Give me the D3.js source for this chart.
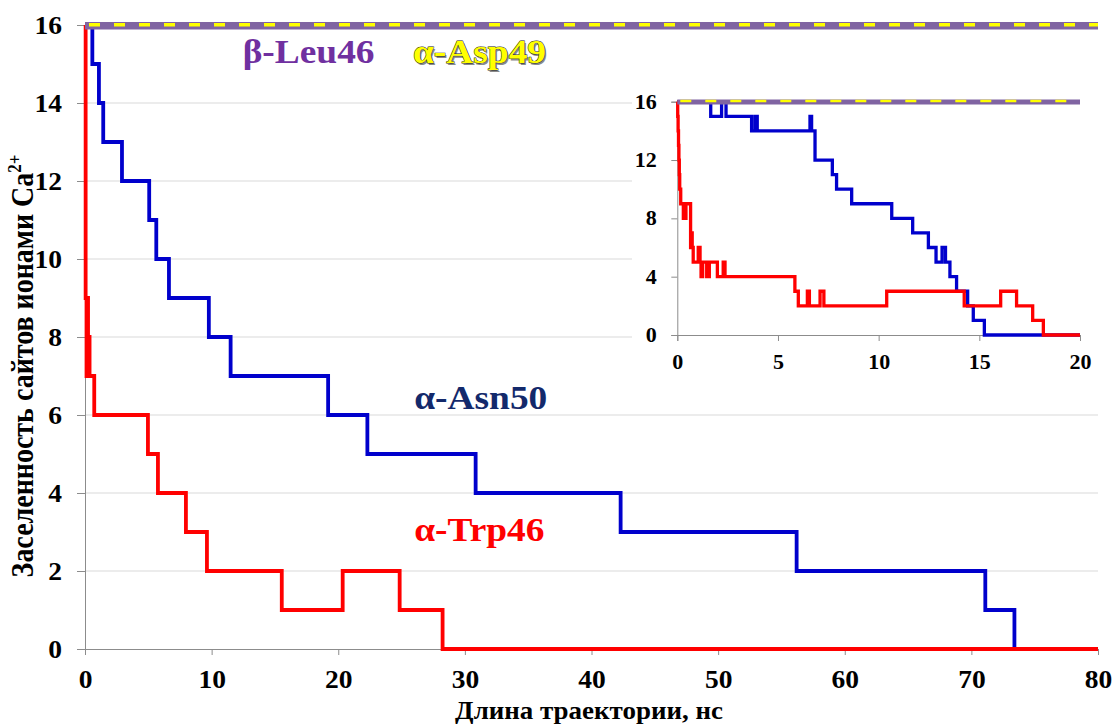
<!DOCTYPE html>
<html>
<head>
<meta charset="utf-8">
<script src="https://cdn.jsdelivr.net/npm/d3@7"></script>
<style>
  html, body { margin: 0; padding: 0; background: #fff; }
  svg { display: block; }
  text { font-family: "Liberation Serif", "Times New Roman", serif; font-weight: bold; }
</style>
</head>
<body>
<svg id="chart" width="1112" height="727"></svg>
<script>
// ---- main panel: 0–80 ns ----
const mainTicksX = [0, 10, 20, 30, 40, 50, 60, 70, 80];
const mainTicksY = [0, 2, 4, 6, 8, 10, 12, 14, 16];

const asn50Time  = [0, 0.58, 1.10, 1.44, 2.92, 5.07, 5.63, 6.63, 9.78, 11.5, 19.2, 22.3, 30.85, 42.3, 56.2, 71.1, 73.4, 80];
const asn50Count = [16, 15, 14, 13, 12, 11, 10, 9, 8, 7, 6, 5, 4, 3, 2, 1, 0, 0];

const trp46Time  = [0, 0.05, 0.12, 0.18, 0.24, 0.30, 0.36, 0.73, 4.97, 5.76, 7.97, 9.63, 15.54, 20.35, 24.85, 28.24, 80];
const trp46Count = [16, 9, 7, 9, 7, 8, 7, 6, 5, 4, 3, 2, 1, 2, 1, 0, 0];

// β-Leu46 and α-Asp49 stay fully occupied over the whole run
const fullTime  = [0, 80];
const fullCount = [16, 16];

// ---- inset: first 20 ns ----
const insetTicksX = [0, 5, 10, 15, 20];
const insetTicksY = [0, 4, 8, 12, 16];

const insetAsnTime  = [0, 1.66, 2.20, 2.42, 3.69, 3.86, 3.97, 6.59, 6.67, 6.84, 7.70, 7.91, 8.66, 10.65, 11.69, 12.47, 12.85, 13.15, 13.32, 13.54, 13.87, 14.42, 14.70, 15.25, 20];
const insetAsnCount = [16, 15, 16, 15, 14, 15, 14, 15, 14, 12, 11, 10, 9, 8, 7, 6, 5, 6, 5, 4, 3, 2, 1, 0, 0];

const insetTrpTime  = [0, 0.02, 0.04, 0.06, 0.08, 0.10, 0.12, 0.14, 0.17, 0.30, 0.43, 0.66, 0.70, 0.74, 0.79, 1.04, 1.13, 1.18, 1.26, 1.46, 1.59, 1.99, 2.28, 2.37, 5.84, 6.01, 6.46, 6.56, 7.09, 7.28, 10.40, 14.25, 16.06, 16.85, 17.65, 18.18, 20];
const insetTrpCount = [16, 15, 14, 13, 12, 11, 10, 10, 9, 8, 9, 6, 7, 6, 5, 6, 5, 4, 5, 4, 5, 4, 5, 4, 3, 2, 3, 2, 3, 2, 3, 2, 3, 2, 1, 0, 0];

const insetFullTime  = [0, 20];
const insetFullCount = [16, 16];

const labelTexts = {
  leu: "β-Leu46",
  asp: "α-Asp49",
  asn: "α-Asn50",
  trp: "α-Trp46",
  xTitle: "Длина траектории, нс",
  yTitle: "Заселенность сайтов ионами Ca"
};

const C = {
  red: "#ff0000",
  blue: "#0000cc",
  navy: "#13296b",
  purpleBand: "#8064a2",
  purpleText: "#7030a0",
  yellow: "#ffff00",
  grid: "#d9d9d9",
  axis: "#8c8c8c",
  text: "#000000"
};

// glyphs are drawn slightly wide, as in the Times-style typesetting of the figure
const WIDE = 1.1;

const zip = (t, v) => t.map((d, i) => [d, v[i]]);
const svg = d3.select("#chart");

function styleTicks(axisG, size) {
  axisG.select(".domain").attr("stroke", C.axis);
  axisG.selectAll(".tick line").attr("stroke", C.axis);
  axisG.selectAll(".tick text")
    .attr("font-size", size).attr("fill", C.text)
    .attr("transform", `scale(${WIDE},1)`)
    .style("font-family", '"Liberation Serif", serif').style("font-weight", "bold");
}

function wideText(parent, str, px, py, size, fill, anchor) {
  return parent.append("text").text(str)
    .attr("transform", `translate(${px},${py}) scale(${WIDE},1)`)
    .attr("text-anchor", anchor || "start")
    .attr("font-size", size).attr("fill", fill);
}

// ---------- main panel ----------
const M = { left: 85, top: 25, right: 1098, bottom: 649 };
const x = d3.scaleLinear().domain([0, 80]).range([M.left, M.right]);
const y = d3.scaleLinear().domain([0, 16]).range([M.bottom, M.top]);

// horizontal gridlines
svg.append("g").selectAll("line")
  .data(mainTicksY.filter(d => d > 0))
  .join("line")
  .attr("x1", x(0)).attr("x2", x(80))
  .attr("y1", d => y(d)).attr("y2", d => y(d))
  .attr("stroke", C.grid).attr("stroke-width", 1);

const yAxis = svg.append("g")
  .attr("transform", `translate(${x(0)},0)`)
  .call(d3.axisLeft(y).tickValues(mainTicksY).tickSize(8).tickPadding(13).tickFormat(d3.format("d")));
styleTicks(yAxis, 25);

const xAxis = svg.append("g")
  .attr("transform", `translate(0,${y(0)})`)
  .call(d3.axisBottom(x).tickValues(mainTicksX).tickSize(6).tickPadding(15).tickFormat(d3.format("d")));
styleTicks(xAxis, 25);

const stepMain = d3.line().x(d => x(d[0])).y(d => y(d[1])).curve(d3.curveStepAfter);

svg.append("path").datum(zip(asn50Time, asn50Count))
  .attr("d", stepMain).attr("fill", "none")
  .attr("stroke", C.blue).attr("stroke-width", 3.8);

svg.append("path").datum(zip(trp46Time, trp46Count))
  .attr("d", stepMain).attr("fill", "none")
  .attr("stroke", C.red).attr("stroke-width", 3.8);

// β-Leu46 (purple band) with α-Asp49 (yellow dashes) on top
svg.append("path").datum(zip(fullTime, fullCount))
  .attr("d", stepMain).attr("transform", "translate(0,0.7)")
  .attr("fill", "none").attr("stroke", C.purpleBand).attr("stroke-width", 7.5);
svg.append("path").datum(zip(fullTime, fullCount))
  .attr("d", stepMain).attr("transform", "translate(0,-0.3)")
  .attr("fill", "none").attr("stroke", C.yellow).attr("stroke-width", 3.5)
  .attr("stroke-dasharray", "11 14").attr("stroke-dashoffset", -4);

// series labels
wideText(svg, labelTexts.leu, x(12.45), 63, 34, C.purpleText);

wideText(svg, labelTexts.asp, x(25.9) + 1.5, 64.5, 34, "#8a8a8a");
wideText(svg, labelTexts.asp, x(25.9), 63, 34, C.yellow)
  .attr("stroke", "#222").attr("stroke-width", 0.9).attr("paint-order", "stroke");

wideText(svg, labelTexts.asn, x(26.0), 409, 34, C.navy);
wideText(svg, labelTexts.trp, x(26.0), 541, 34, C.red);

// axis titles
wideText(svg, labelTexts.xTitle, 589, 719, 24.5, C.text, "middle");

const yt = svg.append("text")
  .attr("transform", `translate(33,366) rotate(-90) scale(1,${WIDE})`)
  .attr("text-anchor", "middle").attr("font-size", 28).attr("fill", C.text);
yt.append("tspan").text(labelTexts.yTitle);
yt.append("tspan").text("2+").attr("font-size", 17).attr("dy", -11);

// ---------- inset ----------
const I = { left: 677.3, top: 101.7, right: 1080, bottom: 335 };
svg.append("rect")
  .attr("x", 632).attr("y", 86).attr("width", 470).attr("height", 294)
  .attr("fill", "#fff");

const xi = d3.scaleLinear().domain([0, 20]).range([I.left, I.right]);
const yi = d3.scaleLinear().domain([0, 16]).range([I.bottom, I.top]);

const yiAxis = svg.append("g")
  .attr("transform", `translate(${xi(0)},0)`)
  .call(d3.axisLeft(yi).tickValues(insetTicksY).tickSize(6).tickPadding(12.7).tickFormat(d3.format("d")));
styleTicks(yiAxis, 20);

const xiAxis = svg.append("g")
  .attr("transform", `translate(0,${yi(0)})`)
  .call(d3.axisBottom(xi).tickValues(insetTicksX).tickSize(6).tickPadding(14).tickFormat(d3.format("d")));
styleTicks(xiAxis, 20);

const stepInset = d3.line().x(d => xi(d[0])).y(d => yi(d[1])).curve(d3.curveStepAfter);

svg.append("path").datum(zip(insetAsnTime, insetAsnCount))
  .attr("d", stepInset).attr("fill", "none")
  .attr("stroke", C.blue).attr("stroke-width", 3.3);

svg.append("path").datum(zip(insetTrpTime, insetTrpCount))
  .attr("d", stepInset).attr("fill", "none")
  .attr("stroke", C.red).attr("stroke-width", 3.3);

svg.append("path").datum(zip(insetFullTime, insetFullCount))
  .attr("d", stepInset).attr("transform", "translate(0,0.4)")
  .attr("fill", "none").attr("stroke", C.purpleBand).attr("stroke-width", 5);
svg.append("path").datum(zip(insetFullTime, insetFullCount))
  .attr("d", stepInset).attr("transform", "translate(0,-0.6)")
  .attr("fill", "none").attr("stroke", C.yellow).attr("stroke-width", 2.5)
  .attr("stroke-dasharray", "11 14").attr("stroke-dashoffset", -3);
</script>
</body>
</html>
